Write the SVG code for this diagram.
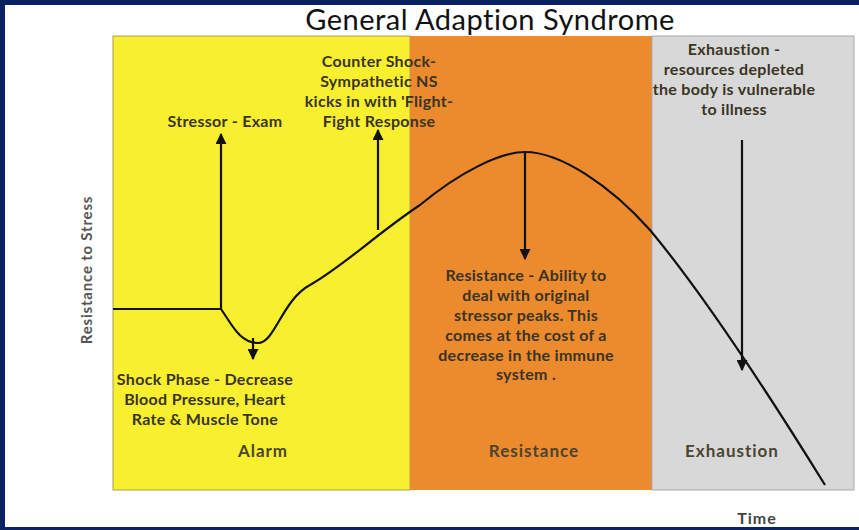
<svg xmlns="http://www.w3.org/2000/svg" width="859" height="530" viewBox="0 0 859 530">
<style>
.lbl{font-family:Lato,"Liberation Sans",sans-serif;font-weight:bold;font-size:16px;fill:#3a3424;text-anchor:middle;letter-spacing:0.3px}
.ph{font-family:Lato,"Liberation Sans",sans-serif;font-weight:bold;font-size:17px;fill:#4a4430;text-anchor:middle;letter-spacing:1px}
.ln{stroke:#111;stroke-width:2.2;fill:none}
</style>
<defs>
<marker id="ah" viewBox="0 0 10 10" refX="9" refY="5" markerWidth="5" markerHeight="5" orient="auto-start-reverse">
<path d="M0,0 L10,5 L0,10 z" fill="#111"/>
</marker>
</defs>
<rect width="859" height="530" fill="#0b2260"/>
<rect x="5" y="5" width="854" height="522" fill="#ffffff"/>
<g id="panels">
<rect x="113" y="36" width="297" height="454" fill="#f8f02e" stroke="#a8a050" stroke-width="1"/>
<rect x="410" y="36" width="242" height="454" fill="#ec8a2e"/>
<rect x="652" y="36" width="202" height="454" fill="#d8d8d8" stroke="#aaaaaa" stroke-width="1"/>
</g>
<text x="490" y="30" font-family="Lato,'Liberation Sans',sans-serif" font-size="29" fill="#111" text-anchor="middle" letter-spacing="0.5">General Adaption Syndrome</text>
<text transform="translate(92,270) rotate(-90)" font-family="Lato,'Liberation Sans',sans-serif" font-size="15" font-weight="bold" fill="#555" text-anchor="middle" letter-spacing="0.8">Resistance to Stress</text>
<text x="757" y="524" class="ph" style="font-size:16px;fill:#444">Time</text>
<g id="curve">
<path class="ln" d="M113,309 L221,309 C232,325 240,343 258,343 C275,343 282,300 310,285 C345,265 375,235 420,205 C460,172 500,152 525,152 C560,152 610,185 650,230 C700,290 760,380 825,485"/>
</g>
<g id="connectors">
<line class="ln" x1="221" y1="309" x2="221" y2="134" marker-end="url(#ah)"/>
<line class="ln" x1="378" y1="230" x2="378" y2="130" marker-end="url(#ah)"/>
<line class="ln" x1="525" y1="152" x2="525" y2="259" marker-end="url(#ah)"/>
<line class="ln" x1="742" y1="140" x2="742" y2="370" marker-end="url(#ah)"/>
<line class="ln" x1="253" y1="338" x2="253" y2="359" marker-end="url(#ah)"/>
</g>
<g id="stressor"><text class="lbl" x="225" y="127">Stressor - Exam</text></g>
<g id="counter">
<text class="lbl" x="379" y="67">Counter Shock-</text>
<text class="lbl" x="379" y="87">Sympathetic NS</text>
<text class="lbl" x="379" y="107">kicks in with 'Flight-</text>
<text class="lbl" x="379" y="127">Fight Response</text>
</g>
<g id="exhaustion-note">
<text class="lbl" x="734" y="55">Exhaustion -</text>
<text class="lbl" x="734" y="75">resources depleted</text>
<text class="lbl" x="734" y="95">the body is vulnerable</text>
<text class="lbl" x="734" y="115">to illness</text>
</g>
<g id="resistance-note">
<text class="lbl" x="526" y="281">Resistance - Ability to</text>
<text class="lbl" x="526" y="301">deal with original</text>
<text class="lbl" x="526" y="321">stressor peaks. This</text>
<text class="lbl" x="526" y="341">comes at the cost of a</text>
<text class="lbl" x="526" y="361">decrease in the immune</text>
<text class="lbl" x="526" y="380">system .</text>
</g>
<g id="shock-note">
<text class="lbl" x="205" y="385">Shock Phase - Decrease</text>
<text class="lbl" x="205" y="405">Blood Pressure, Heart</text>
<text class="lbl" x="205" y="425">Rate &amp; Muscle Tone</text>
</g>
<g id="phases">
<text class="ph" x="263" y="457">Alarm</text>
<text class="ph" x="534" y="457">Resistance</text>
<text class="ph" x="732" y="457">Exhaustion</text>
</g>
</svg>
